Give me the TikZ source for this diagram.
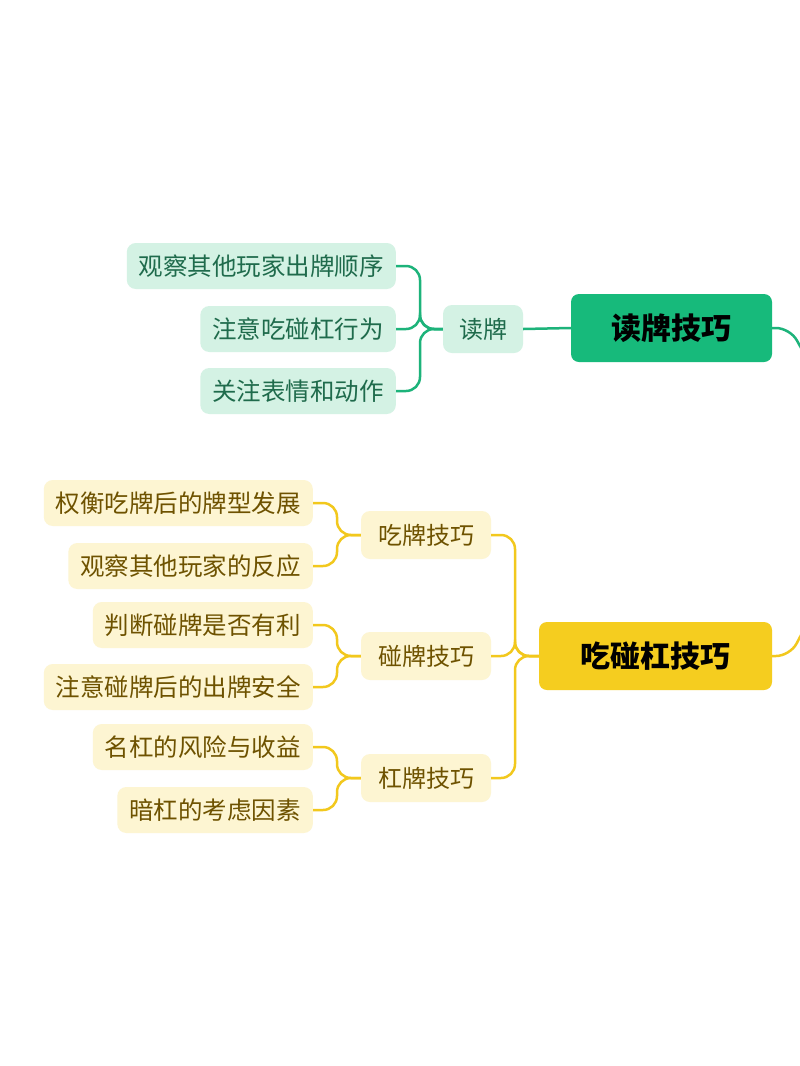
\documentclass[tikz,border=0pt]{standalone}
\usepackage{fontspec}
\setmainfont{Noto Sans CJK SC}
\begin{document}
\begin{tikzpicture}[x=1pt,y=-1pt,
  gmain/.style={rounded corners=8,fill=gfill,minimum width=201,minimum height=68,font=\fontsize{30}{32}\selectfont\bfseries,text=black},
  ymain/.style={rounded corners=8,fill=yfill,minimum width=233,minimum height=68,font=\fontsize{30}{32}\selectfont\bfseries,text=black},
  gmid/.style={rounded corners=9,fill=gleaf,minimum height=48,inner xsep=12,font=\fontsize{24}{26}\selectfont,text=gtext},
  gleafs/.style={rounded corners=9,fill=gleaf,minimum height=46,inner xsep=12,anchor=east,font=\fontsize{24.5}{26}\selectfont,text=gtext},
  ymid/.style={rounded corners=9,fill=yleaf,minimum height=48,inner xsep=12,font=\fontsize{24}{26}\selectfont,text=ytext},
  yleafs/.style={rounded corners=9,fill=yleaf,minimum height=46,inner xsep=12,anchor=east,font=\fontsize{24.5}{26}\selectfont,text=ytext},
  gl/.style={draw=gline,line width=2.5,rounded corners=14},
  yl/.style={draw=yline,line width=2.5,rounded corners=14}]
\definecolor{gfill}{HTML}{17BA7B}
\definecolor{gleaf}{HTML}{D4F2E4}
\definecolor{gtext}{HTML}{1F6B4C}
\definecolor{gline}{HTML}{1DB37A}
\definecolor{yfill}{HTML}{F5CD1F}
\definecolor{yleaf}{HTML}{FDF5D2}
\definecolor{ytext}{HTML}{6E5200}
\definecolor{yline}{HTML}{F2C81D}
\fill[white] (0,0) rectangle (800,1066);
\useasboundingbox (0,0) rectangle (800,1066);
\clip (0,0) rectangle (800,1066);
% green
\node[gmain] (G) at (671.5,328) {读牌技巧};
\node[gmid,minimum width=80] (G1) at (483,329) {读牌};
\node[gleafs] (g1) at (396,266) {观察其他玩家出牌顺序};
\node[gleafs] (g2) at (396,329) {注意吃碰杠行为};
\node[gleafs] (g3) at (396,391) {关注表情和动作};
\coordinate (gx) at (830,400);
\draw[gl] (G.east) -- (790,328) -- (gx);
\draw[gl] (G.west) -- (G1.east);
\foreach \l in {g1,g2,g3}{\draw[gl] (G1.west) -- (420,329) |- (\l.east);}
% yellow
\node[ymain] (Y) at (655.5,656) {吃碰杠技巧};
\node[ymid,minimum width=130] (Y1) at (426,535) {吃牌技巧};
\node[ymid,minimum width=130] (Y2) at (426,656) {碰牌技巧};
\node[ymid,minimum width=130] (Y3) at (426,778) {杠牌技巧};
\coordinate (yx) at (830,580);
\draw[yl] (Y.east) -- (790,656) -- (yx);
\foreach \m in {Y1,Y2,Y3}{\draw[yl] (Y.west) -- (515,656) |- (\m.east);}
\node[yleafs] (a1) at (313,503) {权衡吃牌后的牌型发展};
\node[yleafs] (a2) at (313,566) {观察其他玩家的反应};
\node[yleafs] (b1) at (313,625) {判断碰牌是否有利};
\node[yleafs] (b2) at (313,687) {注意碰牌后的出牌安全};
\node[yleafs] (c1) at (313,747) {名杠的风险与收益};
\node[yleafs] (c2) at (313,810) {暗杠的考虑因素};
\foreach \l in {a1,a2}{\draw[yl] (Y1.west) -- (337,535) |- (\l.east);}
\foreach \l in {b1,b2}{\draw[yl] (Y2.west) -- (337,656) |- (\l.east);}
\foreach \l in {c1,c2}{\draw[yl] (Y3.west) -- (337,778) |- (\l.east);}
\end{tikzpicture}
\end{document}
